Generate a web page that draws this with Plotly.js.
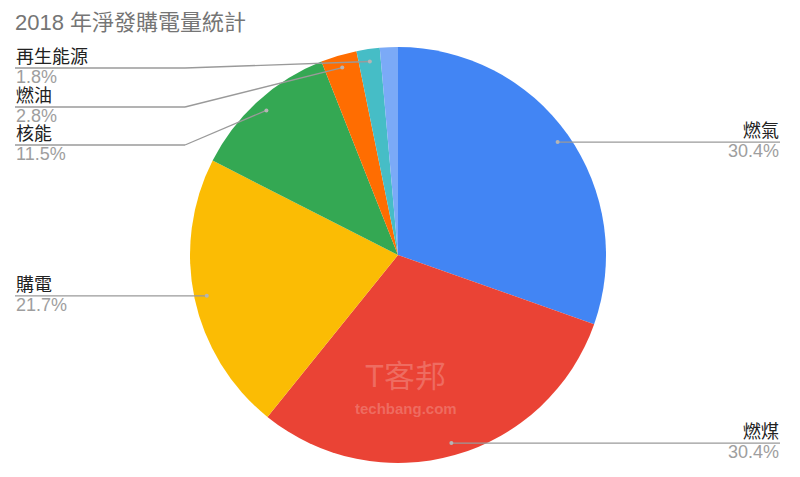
<!DOCTYPE html>
<html><head><meta charset="utf-8">
<script src="https://cdn.plot.ly/plotly-3.0.1.min.js"></script>
<style>body{margin:0;background:#fff}#chart{width:800px;height:477px}</style>
</head><body><div id="chart"></div>
<script>
// ---- data ----
const labels = ['燃氣', '燃煤', '購電', '核能', '燃油', '再生能源', '其他'];
const values = [30.4, 30.4, 21.7, 11.5, 2.8, 1.8, 1.4];
const showLabel = [true, true, true, true, true, true, false];
const colors = ['#4285F4', '#EA4335', '#FBBC04', '#34A853', '#FF6D01', '#46BDC6', '#7BAAF7'];

// ---- layout constants (pixels) ----
const W = 800, H = 477;
const CX = 398, CY = 255, R = 208;
const DOT_R = 0.94;
const labelCfg = {
  '燃氣': {side: 'right', y: null},
  '燃煤': {side: 'right', y: null},
  '購電': {side: 'left', y: null},
  '核能': {side: 'left', y: 145, elbow: 185},
  '燃油': {side: 'left', y: 107, elbow: 185},
  '再生能源': {side: 'left', y: 68, elbow: 185}
};
const LEFT_X = 15, RIGHT_X = 780;
const px = x => x / W, py = y => 1 - y / H;
const FONT = 'Liberation Sans, Arial, Noto Sans CJK TC, sans-serif';

const total = values.reduce((a, b) => a + b, 0);
const shapes = [], annotations = [];
let cum = 0;
values.forEach((v, i) => {
  const mid = (cum + v / 2) / total * 2 * Math.PI;
  cum += v;
  if (!showLabel[i]) return;
  const cfg = labelCfg[labels[i]];
  const dx = CX + Math.sin(mid) * R * DOT_R;
  const dy = CY - Math.cos(mid) * R * DOT_R;
  const ly = cfg.y == null ? dy : cfg.y;
  const endX = cfg.side === 'right' ? RIGHT_X : LEFT_X;
  const lineStyle = {color: '#9a9a9a', width: 1.3};
  if (cfg.elbow != null) {
    shapes.push({type: 'line', xref: 'paper', yref: 'paper', x0: px(dx), y0: py(dy), x1: px(cfg.elbow), y1: py(ly), line: lineStyle});
    shapes.push({type: 'line', xref: 'paper', yref: 'paper', x0: px(cfg.elbow), y0: py(ly), x1: px(endX), y1: py(ly), line: lineStyle});
  } else {
    shapes.push({type: 'line', xref: 'paper', yref: 'paper', x0: px(dx), y0: py(dy), x1: px(endX), y1: py(ly), line: lineStyle});
  }
  shapes.push({type: 'circle', xref: 'paper', yref: 'paper', x0: px(dx - 2), x1: px(dx + 2), y0: py(dy - 2), y1: py(dy + 2), fillcolor: '#b5b5b5', line: {width: 0}});
  const xa = cfg.side === 'right' ? 'right' : 'left';
  annotations.push({xref: 'paper', yref: 'paper', x: px(endX), y: py(ly), xanchor: xa, yanchor: 'bottom', showarrow: false,
    text: labels[i], font: {family: FONT, size: 18, color: '#222222'}, borderpad: 0});
  annotations.push({xref: 'paper', yref: 'paper', x: px(endX), y: py(ly - 2), xanchor: xa, yanchor: 'top', showarrow: false,
    text: v.toFixed(1) + '%', font: {family: FONT, size: 18, color: '#9e9e9e'}, borderpad: 0});
});

// watermark
annotations.push({xref: 'paper', yref: 'paper', x: px(406), y: py(396), showarrow: false, text: 'T客邦',
  font: {family: FONT, size: 31, color: 'rgba(255,255,255,0.22)'}});
annotations.push({xref: 'paper', yref: 'paper', x: px(406), y: py(419), showarrow: false, text: '<b>techbang.com</b>',
  font: {family: FONT, size: 15, color: 'rgba(255,255,255,0.22)'}});

const trace = {
  type: 'pie', labels: labels, values: values, sort: false, direction: 'clockwise', rotation: 0,
  marker: {colors: colors, line: {width: 0}}, textinfo: 'none', hoverinfo: 'label+percent',
  domain: {x: [px(CX - R), px(CX + R)], y: [py(CY + R), py(CY - R)]}, showlegend: false
};
const layout = {
  width: W, height: H, margin: {l: 0, r: 0, t: 0, b: 0}, paper_bgcolor: '#ffffff',
  title: {text: '2018 年淨發購電量統計', x: px(15), xanchor: 'left', y: py(22), yanchor: 'middle',
    font: {family: FONT, size: 22, color: '#757575'}},
  shapes: shapes, annotations: annotations, showlegend: false
};
Plotly.newPlot('chart', [trace], layout, {staticPlot: true});
</script></body></html>
